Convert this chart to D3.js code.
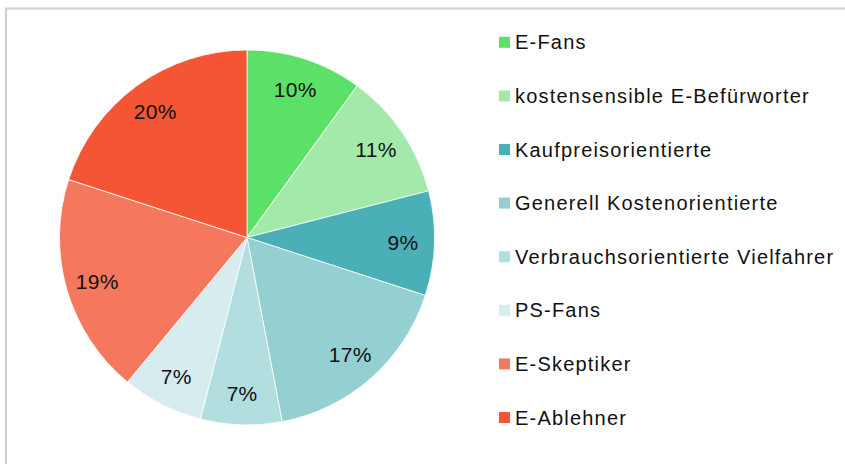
<!DOCTYPE html>
<html>
<head>
<meta charset="utf-8">
<script src="https://cdn.jsdelivr.net/npm/d3@7"></script>
<style>
  body { margin: 0; background: #fff; }
  svg { display: block; font-family: "Liberation Sans", Arial, sans-serif; }
</style>
</head>
<body>
<div id="chart"></div>
<script>
var categories = ['E-Fans', 'kostensensible E-Befürworter', 'Kaufpreisorientierte',
  'Generell Kostenorientierte', 'Verbrauchsorientierte Vielfahrer', 'PS-Fans',
  'E-Skeptiker', 'E-Ablehner'];
var shares = [10, 11, 9, 17, 7, 7, 19, 20];
var colors = ['#5be068', '#a3eaaa', '#4bafb7', '#94cfd1', '#b3dedf', '#d7ecee', '#f5775d', '#f35535'];

var width = 845, height = 464,
    cx = 247, cy = 237.5, radius = 187.5;

var svg = d3.select('#chart').append('svg')
  .attr('width', width)
  .attr('height', height);

// chart frame (right and bottom edges fall outside the picture)
svg.append('rect')
  .attr('x', 6).attr('y', 8.5)
  .attr('width', 850).attr('height', 470)
  .attr('fill', 'none')
  .attr('stroke', '#d0d0d0')
  .attr('stroke-width', 2);

var pie = d3.pie().sort(null).value(function(d) { return d; });
var arc = d3.arc().innerRadius(0).outerRadius(radius);
var labelArc = d3.arc().innerRadius(156).outerRadius(156);

var g = svg.append('g').attr('transform', 'translate(' + cx + ',' + cy + ')');

var slices = g.selectAll('.arc')
  .data(pie(shares))
  .enter().append('g')
  .attr('class', 'arc');

slices.append('path')
  .attr('d', arc)
  .attr('fill', function(d, i) { return colors[i]; })
  .attr('stroke', '#fff')
  .attr('stroke-width', 0.8);

slices.append('text')
  .attr('transform', function(d) { return 'translate(' + labelArc.centroid(d) + ')'; })
  .attr('text-anchor', 'middle')
  .attr('dy', '0.36em')
  .style('font-size', '21px')
  .style('letter-spacing', '0.3px')
  .style('fill', '#111')
  .text(function(d) { return d.data + '%'; });

// legend
var legendY = d3.scalePoint()
  .domain(categories)
  .range([42.3, 417.5]);

var legend = svg.selectAll('.legend')
  .data(categories)
  .enter().append('g')
  .attr('class', 'legend')
  .attr('transform', function(d) { return 'translate(499,' + legendY(d) + ')'; });

legend.append('rect')
  .attr('x', 0).attr('y', -5.5)
  .attr('width', 11).attr('height', 11)
  .attr('fill', function(d, i) { return colors[i]; });

legend.append('text')
  .attr('x', 16)
  .attr('dy', '0.35em')
  .style('font-size', '20px')
  .style('letter-spacing', '1.2px')
  .style('fill', '#111')
  .text(function(d) { return d; });
</script>
</body>
</html>
